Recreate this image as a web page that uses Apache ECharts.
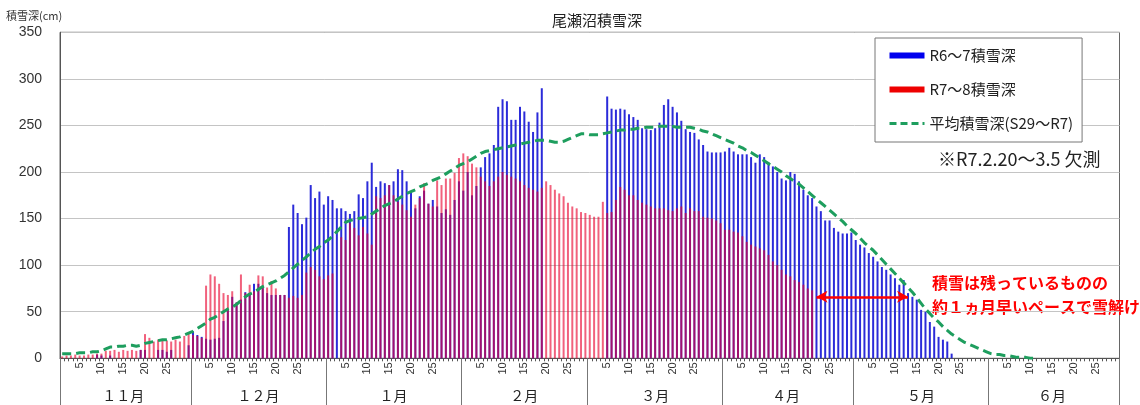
<!DOCTYPE html>
<html><head><meta charset="utf-8">
<script src="https://cdn.jsdelivr.net/npm/echarts@6/dist/echarts.min.js"></script>
<style>html,body{margin:0;padding:0;background:#fff}#c{width:1140px;height:405px}</style>
</head><body><div id="c"></div>
<script>
const chartTitle = '尾瀬沼積雪深';
const seriesNames = ['R6〜7積雪深', 'R7〜8積雪深', '平均積雪深(S29〜R7)'];
const monthLabels = ['１１月','１２月','１月','２月','３月','４月','５月','６月'];
const monthLengths = [30,31,31,29,31,30,31,30];
const dayTickLabels = ['5','10','15','20','25'];
const yMin = 0, yMax = 350, yStep = 50;

// R6~7 (blue)
const blueNov = [0,0,0,0,0,0,0,0,4,3,0,3,0,0,0,0,0,0,9,9,0,0,9,9,7,9,0,0,0,14];
const blueDec = [29,25,23,21,20,21,22,40,52,66,60,63,71,68,80,80,77,70,68,68,68,68,141,165,156,144,151,186,172,179,165];
const blueJan = [174,170,161,161,158,155,158,176,172,190,210,184,190,188,186,190,203,202,190,178,161,174,180,166,170,163,156,160,154,170,190];
const blueFeb = [180,200,175,185,205,216,220,229,270,278,276,256,256,270,265,254,243,264,290,null,null,null,null,null,null,null,null,null,null];
const blueMar = [null,null,null,null,281,268,267,268,267,262,259,256,247,246,245,247,253,272,278,270,264,255,246,243,242,235,229,222,221,221,221];
const blueApr = [222,226,222,219,219,219,216,210,219,216,210,206,200,193,191,200,198,190,181,175,172,163,158,148,148,140,136,134,134,135];
const blueMay = [127,122,119,113,109,104,98,95,90,86,79,84,70,66,63,52,50,39,34,23,20,18,5,0,0,0,0,0,0,0,0];
const blueJun = [null,null,null,null,null,null,null,null,null,null,null,null,null,null,null,null,null,null,null,null,null,null,null,null,null,null,null,null,null,null];

// R7~8 (red)
const redNov = [2,3,3,4,3,3,4,4,5,5,8,8,9,7,9,8,9,8,9,26,22,18,20,19,19,18,20,18,24,27];
const redDec = [25,24,22,78,90,88,80,70,68,72,60,90,70,79,72,89,88,76,83,75,68,68,65,67,65,68,92,98,95,88,85];
const redJan = [89,91,null,130,127,145,140,132,141,134,122,174,172,175,186,175,168,165,159,152,165,172,188,166,163,191,186,193,193,199,215];
const redFeb = [220,217,209,205,195,190,185,190,195,200,197,195,193,190,186,183,181,179,183,190,186,181,177,174,167,163,161,157,156];
const redMar = [154,152,152,168,156,157,170,184,181,175,175,170,167,165,163,161,161,161,159,158,161,163,156,161,158,158,152,151,150,148,145];
const redApr = [138,138,136,135,131,125,122,120,118,116,111,104,100,95,90,88,84,82,79,75,73,null,null,null,null,null,null,null,null,null];
const redMay = [null,null,null,null,null,null,null,null,null,null,null,null,null,null,null,null,null,null,null,null,null,null,null,null,null,null,null,null,null,null,null];
const redJun = [null,null,null,null,null,null,null,null,null,null,null,null,null,null,null,null,null,null,null,null,null,null,null,null,null,null,null,null,null,null];

// average (green dashed)
const avgNov = [5,5,5,5,6,6,6,7,7,8,10,12,12,13,13,14,14,13,14,16,17,18,19,20,20,21,22,23,25,27];
const avgDec = [29,32,35,38,42,44,47,50,53,55,58,62,66,69,71,74,77,79,81,83,86,89,93,97,101,105,109,113,117,120,124];
const avgJan = [127,131,136,141,146,148,149,150,151,152,155,158,161,164,166,168,171,174,177,179,181,184,186,188,191,193,195,198,201,204,207];
const avgFeb = [209,211,214,217,220,222,223,224,225,226,227,228,229,230,231,232,233,234,234,234,233,232,232,233,235,237,239,241,241];
const avgMar = [240,240,240,241,242,243,244,245,245,246,246,247,247,248,248,248,249,249,249,249,248,248,248,248,247,246,244,243,241,239,237];
const avgApr = [235,233,231,228,226,223,221,218,215,212,209,206,203,200,196,193,190,187,183,179,175,171,167,163,159,155,151,147,142,138];
const avgMay = [134,129,124,120,116,111,106,101,96,91,86,81,76,71,65,59,53,48,43,39,34,30,26,23,20,17,15,13,11,9,7];
const avgJun = [5,4,4,3,3,2,1,1,1,0,0,null,null,null,null,null,null,null,null,null,null,null,null,null,null,null,null,null,null,null];

// arrow annotation (category index, value)
const arrowFrom = [173, 66];
const arrowTo = [194, 66];

const blue = [].concat(blueNov, blueDec, blueJan, blueFeb, blueMar, blueApr, blueMay, blueJun);
const red = [].concat(redNov, redDec, redJan, redFeb, redMar, redApr, redMay, redJun);
const avg = [].concat(avgNov, avgDec, avgJan, avgFeb, avgMar, avgApr, avgMay, avgJun);

const categories = [];
const monthStart = new Set();
const monthMid = {};
monthLengths.forEach((len, m) => {
  const start = categories.length;
  monthStart.add(start);
  monthMid[start + Math.floor((len - 1) / 2)] = monthLabels[m];
  for (let d = 1; d <= len; d++) categories.push(String(d));
});

const jpFont = '"Noto Sans CJK JP", sans-serif';
const chart = echarts.init(document.getElementById('c'), null, {renderer: 'canvas'});
chart.setOption({
  animation: false,
  backgroundColor: '#fff',
  title: {text: chartTitle, left: 547, top: 8, textStyle: {fontSize: 15, fontWeight: 'normal', color: '#222', fontFamily: jpFont}},
  grid: {left: 60, right: 20.5, top: 32.3, bottom: 46.7, show: true, borderColor: '#666', borderWidth: 1, backgroundColor: 'transparent'},
  legend: {
    orient: 'vertical', left: 875, top: 38,
    itemWidth: 35, itemHeight: 6, itemGap: 19,
    padding: [10, 9, 11, 13],
    borderColor: '#777', borderWidth: 1, backgroundColor: '#fff',
    textStyle: {fontSize: 15, color: '#222', fontFamily: jpFont},
    data: [
      {name: seriesNames[0], icon: 'rect', itemStyle: {color: '#0000ee', opacity: 1}},
      {name: seriesNames[1], icon: 'rect', itemStyle: {color: '#ee0000', opacity: 1}},
      {name: seriesNames[2], itemStyle: {opacity: 0, color: 'transparent', borderWidth: 0}, lineStyle: {color: '#1e9e5e', width: 3, type: [7, 4], opacity: 1}}
    ]
  },
  xAxis: [
    {
      type: 'category', data: categories, position: 'bottom',
      axisLine: {show: true, lineStyle: {color: '#555'}},
      axisTick: {show: true, interval: 0, length: 3, lineStyle: {color: '#555'}},
      axisLabel: {
        interval: (i, v) => dayTickLabels.includes(v),
        rotate: 90, margin: 4, fontSize: 11, color: '#333', fontFamily: 'Liberation Sans, Arial, sans-serif'
      },
      splitLine: {show: false}
    },
    {
      type: 'category', data: categories, position: 'bottom',
      axisLine: {show: false},
      axisTick: {show: true, interval: (i) => monthStart.has(i), length: 47, lineStyle: {color: '#777'}},
      axisLabel: {
        interval: (i) => monthMid[i] !== undefined,
        formatter: (v, i) => monthMid[i] || '',
        margin: 30, fontSize: 14, color: '#222', fontFamily: jpFont
      },
      splitLine: {show: false}
    }
  ],
  yAxis: {
    type: 'value', min: yMin, max: yMax, interval: yStep,
    axisLine: {show: true, lineStyle: {color: '#555'}},
    axisTick: {show: false},
    axisLabel: {fontSize: 14, color: '#333', margin: 18, fontFamily: 'Liberation Sans, Arial, sans-serif'},
    splitLine: {show: true, lineStyle: {color: '#c4c4c4', width: 1}}
  },
  graphic: [
    {type: 'text', left: 6, top: 10, style: {text: '積雪深(cm)', font: '11px "Noto Sans CJK JP"', fill: '#333'}},
    {type: 'text', left: 938, top: 150, style: {text: '※R7.2.20〜3.5 欠測', fontSize: 18, fontFamily: jpFont, fill: '#222'}},
    {type: 'text', left: 932, top: 271, style: {text: '積雪は残っているものの\n約１ヵ月早いペースで雪解け', fontSize: 16, fontWeight: 'bold', fontFamily: jpFont, fill: '#ff0000', lineHeight: 24}}
  ],
  series: [
    {
      name: seriesNames[0], type: 'bar', data: blue, xAxisIndex: 0,
      barWidth: 2, itemStyle: {color: '#2b2bd9'}
    },
    {
      name: seriesNames[1], type: 'bar', data: red, xAxisIndex: 0,
      barWidth: 2, barGap: '-100%', itemStyle: {color: '#e8002d', opacity: 0.62},
      markLine: {
        silent: true, symbol: ['arrow', 'arrow'], symbolSize: [9, 11],
        label: {show: false},
        lineStyle: {color: '#ff0000', width: 2.5, type: 'solid', opacity: 1},
        data: [[{coord: arrowFrom}, {coord: arrowTo}]]
      }
    },
    {
      name: seriesNames[2], type: 'line', data: avg, xAxisIndex: 0,
      symbol: 'none', smooth: false, z: 5,
      itemStyle: {color: '#1e9e5e'},
      lineStyle: {color: '#1e9e5e', width: 3, type: [9, 5]}
    }
  ]
});
</script></body></html>
